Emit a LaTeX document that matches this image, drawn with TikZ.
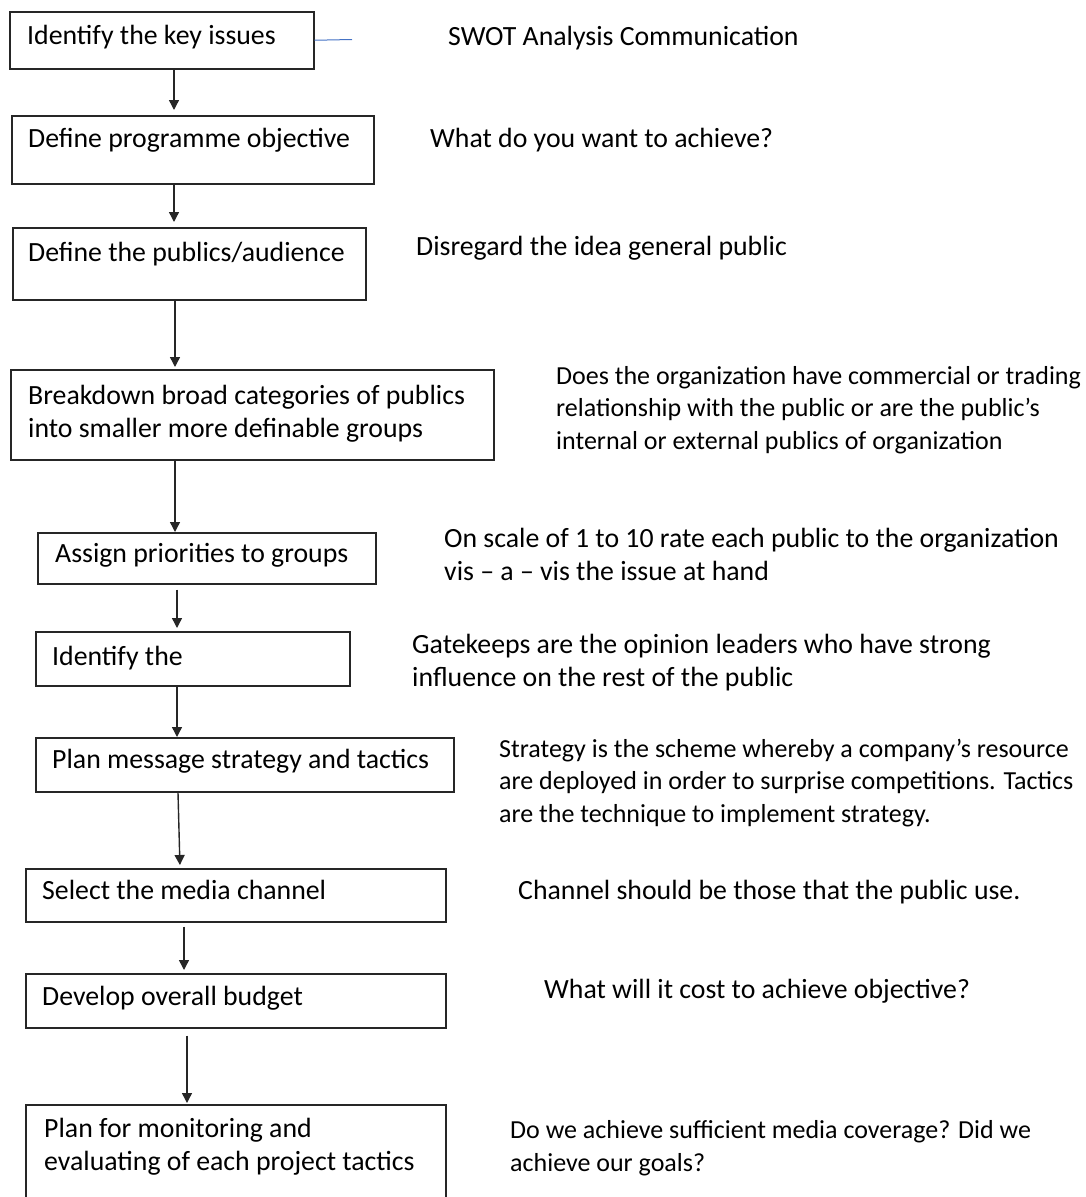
\documentclass[tikz,border=0pt]{standalone}
\usepackage{fontspec}
\setmainfont{Carlito}
\usetikzlibrary{arrows.meta}
\begin{document}
\begin{tikzpicture}[x=1pt,y=-1pt,
    stepbox/.style={draw=black!85,line width=1.5pt,anchor=north west,inner sep=0},
    lbl/.style={inner sep=0,anchor=base west,align=left,font=\fontsize{27.8}{33}\selectfont},
    smalllbl/.style={lbl,font=\fontsize{26}{32.5}\selectfont},
    flow/.style={draw=black!85,line width=1.4pt,-{Triangle[length=10pt,width=10pt]}}]
\useasboundingbox (0,0) rectangle (1085,1197);
% flow boxes
\node[stepbox,minimum width=304,minimum height=57] (b1) at (9,11) {};
\node[stepbox,minimum width=362,minimum height=68] (b2) at (11,115) {};
\node[stepbox,minimum width=353,minimum height=72] (b3) at (12,227) {};
\node[stepbox,minimum width=483,minimum height=90] (b4) at (10,369) {};
\node[stepbox,minimum width=338,minimum height=51] (b5) at (37,532) {};
\node[stepbox,minimum width=314,minimum height=54] (b6) at (35,631) {};
\node[stepbox,minimum width=418,minimum height=54] (b7) at (35,737) {};
\node[stepbox,minimum width=420,minimum height=53] (b8) at (25,868) {};
\node[stepbox,minimum width=420,minimum height=54] (b9) at (25,973) {};
\node[stepbox,minimum width=420,minimum height=104] (b10) at (25,1104) {};
% box texts (base = last line)
\node[lbl] (t1) at (27,44) {Identify the key issues};
\node[lbl] (t2) at (28,147) {Define programme objective};
\node[lbl] (t3) at (28,261) {Define the publics/audience};
\node[lbl] (t4) at (28,437) {Breakdown broad categories of publics\\into smaller more definable groups};
\node[lbl] (t5) at (55,562) {Assign priorities to groups};
\node[lbl] (t6) at (52,665) {Identify the};
\node[lbl] (t7) at (52,768) {Plan message strategy and tactics};
\node[lbl] (t8) at (42,899) {Select the media channel};
\node[lbl] (t9) at (42,1005) {Develop overall budget};
\node[lbl] (t10) at (44,1170) {Plan for monitoring and\\evaluating of each project tactics};
% notes on the right
\node[lbl] (n1) at (448,45) {SWOT Analysis Communication};
\node[lbl] (n2) at (430,147) {What do you want to achieve?};
\node[lbl] (n3) at (416,255) {Disregard the idea general public};
\node[smalllbl] (n4) at (556,449) {Does the organization have commercial or trading\\relationship with the public or are the public’s\\internal or external publics of organization};
\node[lbl] (n5) at (444,580) {On scale of 1 to 10 rate each public to the organization\\vis – a – vis the issue at hand};
\node[lbl] (n6) at (412,686) {Gatekeeps are the opinion leaders who have strong\\influence on the rest of the public};
\node[smalllbl] (n7) at (499,822) {Strategy is the scheme whereby a company’s resource\\are deployed in order to surprise competitions. Tactics\\are the technique to implement strategy.};
\node[lbl] (n8) at (518,899) {Channel should be those that the public use.};
\node[lbl] (n9) at (544,998) {What will it cost to achieve objective?};
\node[smalllbl] (n10) at (510,1171) {Do we achieve sufficient media coverage? Did we\\achieve our goals?};
% connectors
\coordinate (swot) at (352,39.5);
\draw[draw={rgb,255:red,68;green,114;blue,196},line width=1pt] (b1.east) -- (swot);
\draw[flow,shorten >=5pt] (b1.south -| 174,0) -- (b2.north -| 174,0);
\draw[flow,shorten >=5pt] (b2.south -| 174,0) -- (b3.north -| 174,0);
\draw[flow,shorten >=2pt] (b3.south -| 175,0) -- (b4.north -| 175,0);
\draw[flow] (b4.south -| 175,0) -- (b5.north -| 175,0);
\draw[flow,shorten <=5pt,shorten >=3pt] (b5.south -| 177,0) -- (b6.north -| 177,0);
\draw[flow] (b6.south -| 177,0) -- (b7.north -| 177,0);
\draw[flow,shorten >=3pt] (b7.south -| 178,0) -- (b8.north -| 180,0);
\draw[flow,shorten <=4pt,shorten >=3pt] (b8.south -| 184,0) -- (b9.north -| 184,0);
\draw[flow,shorten <=7pt,shorten >=1pt] (b9.south -| 187,0) -- (b10.north -| 187,0);
\end{tikzpicture}
\end{document}
